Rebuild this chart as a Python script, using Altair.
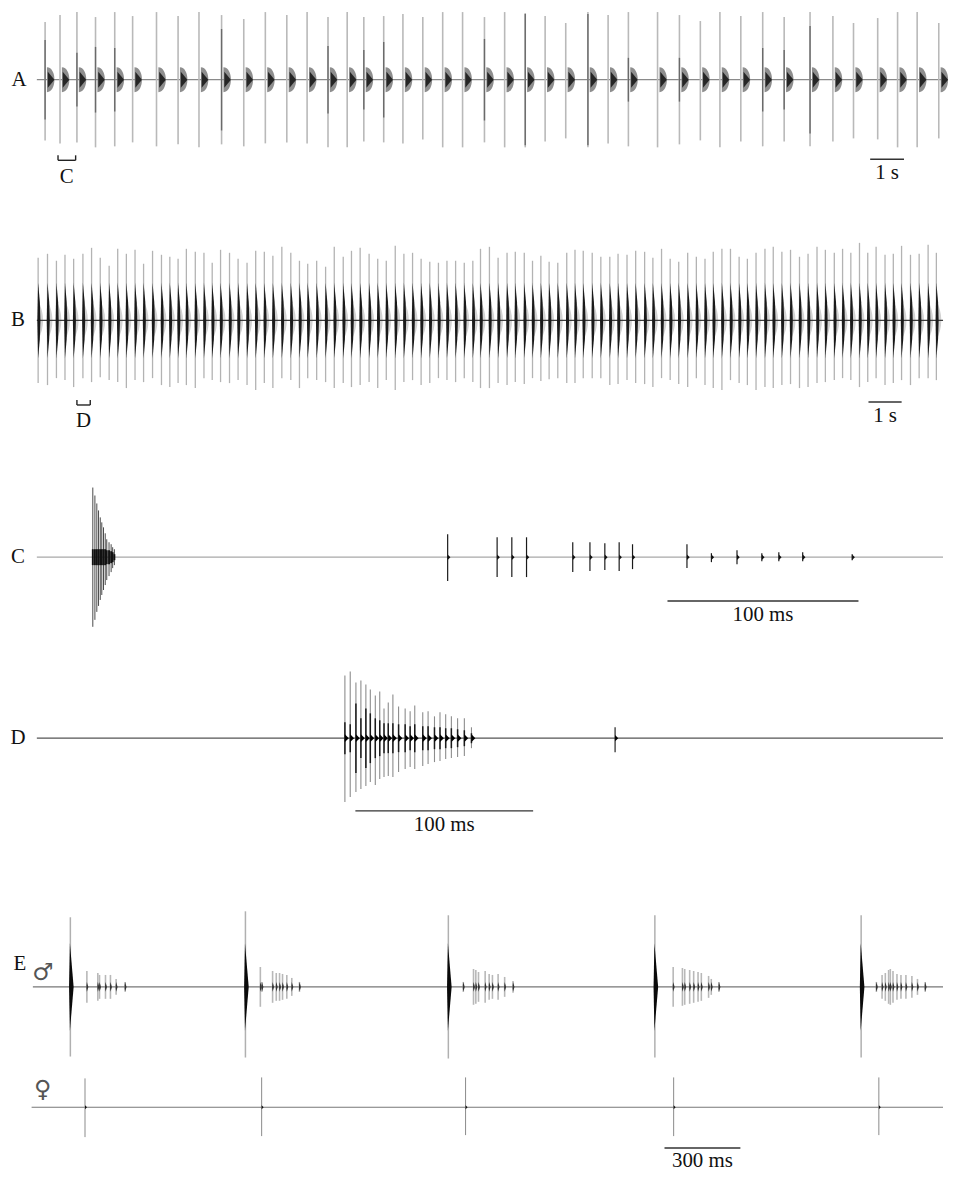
import altair as alt
import pandas as pd

# ======================= DATA =======================
# A : calling song, pulse times (s) and amplitudes (relative units)
A_T = [0.244, 0.685, 1.185, 1.735, 2.303, 2.832, 3.538, 4.176, 4.794, 5.462,
       6.118, 6.756, 7.391, 7.991, 8.609, 9.176, 9.668, 10.256, 10.824, 11.412,
       12.0, 12.588, 13.235, 13.832, 14.441, 15.029, 15.638, 16.294, 16.891, 17.491,
       18.353, 19.0, 19.618, 20.197, 20.815, 21.462, 22.097, 22.862, 23.538, 24.147,
       24.862, 25.450, 26.029, 26.668]
A_UP = [58, 65, 68, 63, 68, 64, 68, 64, 68, 65, 61, 68, 65, 68, 63, 68, 63, 64, 66, 63, 68, 68,
        63, 68, 67, 64, 57, 68, 65, 68, 68, 65, 59, 68, 64, 68, 63, 68, 64, 57, 62, 68, 68, 57]
A_DOWN = [61, 64, 63, 68, 67, 63, 67, 65, 68, 65, 67, 64, 63, 64, 68, 68, 62, 63, 64, 60, 68, 68,
          63, 68, 68, 62, 59, 68, 64, 67, 68, 65, 61, 68, 62, 67, 62, 67, 62, 59, 60, 68, 68, 59]
A_DARK = [40, 0, 27, 33, 32, 0, 0, 0, 0, 51, 0, 0, 0, 0, 34, 0, 30, 38, 0, 0,
          0, 0, 41, 0, 66, 0, 0, 66, 0, 22, 0, 22, 0, 0, 0, 32, 30, 54, 0, 0,
          0, 0, 0, 0]

# B : pulse times (s) and amplitudes
B_T = [0.038, 0.315, 0.579, 0.832, 1.088, 1.362, 1.618, 1.874, 2.138, 2.391,
       2.647, 2.903, 3.156, 3.421, 3.685, 3.932, 4.176, 4.421, 4.685, 4.941,
       5.185, 5.432, 5.697, 5.950, 6.215, 6.471, 6.726, 6.979, 7.244, 7.509,
       7.765, 8.009, 8.274, 8.538, 8.794, 9.059, 9.303, 9.559, 9.824, 10.079,
       10.332, 10.597, 10.853, 11.109, 11.362, 11.618, 11.874, 12.126, 12.382, 12.638,
       12.891,
       13.118, 13.382, 13.638, 13.903, 14.147, 14.412, 14.656, 14.903, 15.147, 15.403,
       15.668, 15.912, 16.156, 16.421, 16.676, 16.941, 17.185, 17.450, 17.706, 17.971,
       18.215, 18.471, 18.726, 18.979, 19.244, 19.5, 19.756, 20.0, 20.256, 20.509,
       20.765, 21.009, 21.265, 21.529, 21.774, 22.029, 22.285, 22.550, 22.803, 23.068,
       23.315, 23.579, 23.824, 24.068, 24.324, 24.568, 24.815, 25.079, 25.324, 25.568,
       25.832, 26.088, 26.353, 26.597]
B_UP = [63, 67, 60, 66, 62, 67, 73, 63, 55, 72, 67, 71, 57, 70, 66, 64, 62, 72, 69, 68,
        58, 71, 68, 62, 58, 70, 69, 65, 74, 68, 60, 57, 60, 54, 74, 64, 70, 73, 67, 62,
        60, 75, 67, 68, 62, 59, 58, 60, 60, 58, 60,
        72, 74, 63, 68, 69, 68, 60, 65, 59, 58, 68, 71, 70, 68, 64, 64, 67, 66, 70, 69,
        63, 72, 62, 59, 68, 64, 62, 69, 72, 72, 64, 62, 68, 72, 74, 69, 71, 64, 67, 74,
        71, 68, 72, 68, 78, 68, 74, 66, 67, 75, 66, 67, 76, 68]
B_DOWN = [63, 65, 58, 60, 67, 58, 62, 57, 60, 62, 68, 60, 62, 58, 65, 67, 63, 65, 68, 58,
          60, 62, 63, 60, 65, 70, 63, 68, 58, 60, 68, 58, 60, 62, 68, 63, 67, 65, 62, 68,
          60, 70, 62, 60, 65, 63, 58, 60, 62, 58, 62,
          68, 68, 63, 65, 62, 64, 58, 61, 59, 58, 63, 63, 58, 58, 58, 65, 64, 60, 63, 64,
          67, 58, 60, 64, 67, 58, 65, 68, 70, 60, 63, 65, 70, 67, 68, 65, 64, 68, 67, 63,
          62, 60, 58, 60, 67, 62, 58, 65, 63, 60, 65, 58, 58, 60]

# C : expanded detail of A (ms)
C_BURST_T = [29.3, 30.4, 31.4, 32.3, 33.2, 34.0, 34.9, 35.8, 36.6, 37.8, 38.9, 39.7, 40.6]
C_BURST_UP = [70, 62, 54, 47, 40, 35, 30, 24, 18, 15, 13, 10, 8]
C_BURST_DOWN = [70, 63, 55, 49, 43, 38, 33, 28, 23, 19, 15, 11, 8]
C_BURST_CORE = [8, 8, 8, 8, 8, 8, 8, 8, 7, 7, 6, 5, 3]
C_PULSE_T = [215.1, 241.0, 248.7, 256.4, 280.6, 289.6, 297.4, 304.9, 311.9,
             340.4, 353.2, 366.6, 379.6, 388.5, 401.0, 426.9]
C_PULSE_UP = [23, 20, 20, 20, 15, 15, 14, 15, 13, 13, 4, 7, 4, 5, 5, 3]
C_PULSE_DOWN = [24, 20, 20, 20, 15, 14, 13, 14, 12, 11, 5, 7, 4, 4, 4, 3]

# D : expanded detail of B (ms)
D_BURST_T = [173.3, 176.3, 179.5, 182.3, 185.1, 187.6, 190.4, 192.9, 195.3, 197.7,
             200.3, 203.5, 207.2, 210.0, 212.6, 217.1, 220.1, 223.7, 226.8, 230.0,
             233.2, 236.7, 240.5, 244.5]
D_BURST_UP = [63, 67, 56, 58, 54, 49, 43, 47, 30, 36, 44, 32, 30, 27, 33, 26, 27, 22, 26, 24,
              22, 20, 20, 11]
D_BURST_DOWN = [64, 59, 54, 51, 48, 44, 47, 41, 39, 38, 39, 34, 31, 29, 31, 28, 26, 24, 23, 21,
                20, 19, 18, 10]
D_BURST_CORE = [16, 14, 35, 20, 30, 25, 20, 18, 15, 15, 15, 14, 14, 12, 14, 12, 12, 11, 11, 10,
                10, 9, 8, 5]
D_PULSE_T = [325.3]
D_PULSE_UP = [11]
D_PULSE_DOWN = [14]

# E : duet, male (upper) and female (lower) (ms)
EM_BIG_T = [148.2, 840.3, 1642.5, 2458.9, 3274.4]
EM_BIG_UP = [70, 76, 72, 72, 72]
EM_BIG_DOWN = [70, 71, 72, 71, 71]
EM_SMALL_T = [213.5, 256.8, 263.5, 287.1, 306.7, 329.1, 364.5,
              899.3, 905.6, 947.7, 962.2, 975.2, 987.0, 1003.9, 1023.6, 1053.9,
              1701.5, 1742.0, 1751.1, 1761.7, 1788.0, 1803.8, 1816.8, 1839.2, 1865.1, 1898.2,
              2531.3, 2567.8, 2576.9, 2596.5, 2612.3, 2629.6, 2642.6, 2671.3, 2681.9, 2712.2,
              3334.6, 3357.1, 3370.0, 3383.0, 3389.7, 3400.3, 3416.0, 3431.8, 3451.4, 3475.0,
              3497.1, 3527.3]
EM_SMALL_AMP = [16, 14, 12, 12, 12, 8, 5,
                20, 5, 16, 14, 14, 13, 12, 9, 5,
                5, 18, 17, 15, 16, 13, 12, 13, 10, 6,
                20, 19, 18, 17, 16, 15, 14, 11, 8, 5,
                5, 12, 14, 17, 18, 16, 13, 12, 12, 11, 8, 5]
EF_T = [206.1, 904.4, 1710.6, 2533.2, 3344.4]
EF_UP = [29, 30, 30, 30, 30]
EF_DOWN = [30, 29, 28, 29, 28]

# annotations (time units of each panel)
A_BRACKET = [0.626, 1.147]     # segment shown in C
B_BRACKET = [1.185, 1.579]     # segment shown in D
A_BAR = [24.64, 25.64]          # 1 s
B_BAR = [24.59, 25.57]          # 1 s
C_BAR = [330.2, 430.2]          # 100 ms
D_BAR = [179.2, 279.2]          # 100 ms
E_BAR = [2497.0, 2797.0]        # 300 ms

# ======================= LAYOUT / STYLE =======================
W = 940
SERIF = "Liberation Serif"
SYMF = "DejaVu Sans"
FS = 21

DOME = "M0.15,-1 C0.95,-1 0.95,1 0.15,1 Z"
ARROW = "M0.22,-0.65 L0.75,0 L0.22,0.65 Z"
SPINDLE = "M0,-1 Q0.12,0 0,1 Q-0.04,0 0,-1 Z"
FUZZ = "M0,-1 Q0.5,0 0,1 Z"
SPIKE = "M-0.01,-1 L0.075,0 L-0.01,1 L-0.03,0 Z"
TRI = "M0,-1 L1,0 L0,1 Z"
DIAM = "M0,-1 L0.3,0 L0,1 L-0.12,0 Z"


def xsc(origin, ppu):
    return alt.Scale(domain=[(8 - origin) / ppu, (948 - origin) / ppu], nice=False, zero=False)


def ysc(h, base):
    return alt.Scale(domain=[-(h - base), base], nice=False, zero=False)


def pulse_df(t, up, down):
    return pd.DataFrame({"t": t, "hi": up, "lo": [-d for d in down], "z": [0] * len(t)})


def rules(df, xs, ys, color, sw):
    return alt.Chart(df).mark_rule(color=color, strokeWidth=sw).encode(
        x=alt.X("t:Q", scale=xs, axis=None),
        y=alt.Y("lo:Q", scale=ys, axis=None),
        y2=alt.Y2("hi:Q"))


def symbols(df, xs, ys, path, size, color):
    return alt.Chart(df).mark_point(shape=path, size=size, filled=True, color=color,
                                    opacity=1, strokeWidth=0).encode(
        x=alt.X("t:Q", scale=xs, axis=None),
        y=alt.Y("z:Q", scale=ys, axis=None))


def baseline(t0, t1, xs, ys, color, sw=1.2):
    df = pd.DataFrame({"t": [t0], "t2": [t1], "z": [0]})
    return alt.Chart(df).mark_rule(color=color, strokeWidth=sw).encode(
        x=alt.X("t:Q", scale=xs, axis=None), x2="t2:Q",
        y=alt.Y("z:Q", scale=ys, axis=None))


def scalebar(seg, label, xs, ybar, ytext):
    df = pd.DataFrame({"t": [seg[0]], "t2": [seg[1]], "tm": [(seg[0] + seg[1]) / 2], "s": [label]})
    bar = alt.Chart(df).mark_rule(color="#333", strokeWidth=1.4).encode(
        x=alt.X("t:Q", scale=xs, axis=None), x2="t2:Q", y=alt.value(ybar))
    txt = alt.Chart(df).mark_text(font=SERIF, fontSize=FS, color="#111", baseline="middle").encode(
        x=alt.X("tm:Q", scale=xs, axis=None), y=alt.value(ytext), text="s:N")
    return [bar, txt]


def bracket(seg, label, xs, ytop, ybot, ytext):
    ends = pd.DataFrame({"t": seg})
    df = pd.DataFrame({"t": [seg[0]], "t2": [seg[1]], "tm": [(seg[0] + seg[1]) / 2], "s": [label]})
    ticks = alt.Chart(ends).mark_rule(color="#222", strokeWidth=1.4).encode(
        x=alt.X("t:Q", scale=xs, axis=None), y=alt.value(ytop), y2=alt.value(ybot))
    hor = alt.Chart(df).mark_rule(color="#222", strokeWidth=1.4).encode(
        x=alt.X("t:Q", scale=xs, axis=None), x2="t2:Q", y=alt.value(ybot))
    txt = alt.Chart(df).mark_text(font=SERIF, fontSize=FS, color="#111", baseline="middle").encode(
        x=alt.X("tm:Q", scale=xs, axis=None), y=alt.value(ytext), text="s:N")
    return [ticks, hor, txt]


def label(s, x, y, font=SERIF, size=FS, color="#111"):
    return alt.Chart(pd.DataFrame({"s": [s]})).mark_text(
        font=font, fontSize=size, color=color, baseline="middle", align="center").encode(
        x=alt.value(x), y=alt.value(y), text="s:N")


# ----------------------------- panel A -----------------------------
HA, BA = 192, 68
xa, ya = xsc(37, 34.0), ysc(HA, BA)
a_df = pulse_df(A_T, A_UP, A_DOWN)
a_dark = pd.DataFrame({"t": [t for t, d in zip(A_T, A_DARK) if d > 0],
                       "hi": [d for d in A_DARK if d > 0],
                       "lo": [-d for d in A_DARK if d > 0]})
panelA = alt.layer(
    baseline(0, (948 - 37) / 34.0, xa, ya, "#8a8a8a"),
    rules(a_df, xa, ya, "#b9b9b9", 1.6),
    rules(a_dark, xa, ya, "#6a6a6a", 1.4),
    symbols(a_df, xa, ya, DOME, 625, "#8e8e8e"),
    symbols(a_df, xa, ya, ARROW, 625, "#262626"),
    *bracket(A_BRACKET, "C", xa, 144, 149, 166),
    *scalebar(A_BAR, "1 s", xa, 148, 162),
    label("A", 11, BA),
).properties(width=W, height=HA)

# ----------------------------- panel B -----------------------------
HB, BB = 240, 118
xb, yb = xsc(37, 34.0), ysc(HB, BB)
b_df = pulse_df(B_T, B_UP, B_DOWN)
panelB = alt.layer(
    rules(b_df, xb, yb, "#b3b3b3", 1.3),
    symbols(b_df, xb, yb, FUZZ, 1600, "#d2d2d2"),
    baseline(0, (948 - 37) / 34.0, xb, yb, "#3a3a3a"),
    symbols(b_df, xb, yb, SPINDLE, 5776, "#1a1a1a"),
    *bracket(B_BRACKET, "D", xb, 198, 203, 219),
    *scalebar(B_BAR, "1 s", xb, 200, 214),
    label("B", 10, BB),
).properties(width=W, height=HB)

# ----------------------------- panel C -----------------------------
HC, BC = 210, 116
xc, yc = xsc(37, 1.92), ysc(HC, BC)
c_burst = pulse_df(C_BURST_T, C_BURST_UP, C_BURST_DOWN)
c_core = pulse_df(C_BURST_T, C_BURST_CORE, C_BURST_CORE)
c_pulse = pulse_df(C_PULSE_T, C_PULSE_UP, C_PULSE_DOWN)
panelC = alt.layer(
    baseline(0, (948 - 37) / 1.92, xc, yc, "#a8a8a8"),
    rules(c_burst, xc, yc, "#4a4a4a", 1.0),
    rules(c_core, xc, yc, "#111111", 1.9),
    rules(c_pulse, xc, yc, "#1a1a1a", 1.2),
    symbols(c_pulse, xc, yc, TRI, 30, "#111111"),
    *scalebar(C_BAR, "100 ms", xc, 160, 174),
    label("C", 10, BC),
).properties(width=W, height=HC)

# ----------------------------- panel D -----------------------------
HD, BD = 210, 88
xd, yd = xsc(37, 1.787), ysc(HD, BD)
d_burst = pulse_df(D_BURST_T, D_BURST_UP, D_BURST_DOWN)
d_core = pulse_df(D_BURST_T, D_BURST_CORE, D_BURST_CORE)
d_pulse = pulse_df(D_PULSE_T, D_PULSE_UP, D_PULSE_DOWN)
panelD = alt.layer(
    baseline(0, (948 - 37) / 1.787, xd, yd, "#555555"),
    rules(d_burst, xd, yd, "#8c8c8c", 1.1),
    rules(d_core, xd, yd, "#1a1a1a", 1.5),
    symbols(d_burst, xd, yd, TRI, 60, "#000000"),
    rules(d_pulse, xd, yd, "#222222", 1.2),
    symbols(d_pulse, xd, yd, TRI, 40, "#000000"),
    *scalebar(D_BAR, "100 ms", xd, 161, 175),
    label("D", 10, BD),
).properties(width=W, height=HD)

# ----------------------------- panel E male -----------------------------
HE, BE = 208, 128
xe, ye = xsc(33, 0.2543), ysc(HE, BE)
em_big = pulse_df(EM_BIG_T, EM_BIG_UP, EM_BIG_DOWN)
em_small = pulse_df(EM_SMALL_T, EM_SMALL_AMP, EM_SMALL_AMP)
panelEM = alt.layer(
    baseline(0, (948 - 33) / 0.2543, xe, ye, "#777777"),
    rules(em_big, xe, ye, "#b0b0b0", 1.5),
    rules(em_small, xe, ye, "#b8b8b8", 1.6),
    symbols(em_small, xe, ye, DIAM, 100, "#333333"),
    symbols(em_big, xe, ye, SPIKE, 7744, "#0a0a0a"),
    label("E", 12, 105),
    label("\u2642", 35, 114, font=SYMF, size=24, color="#555555"),
).properties(width=W, height=HE)

# ----------------------------- panel E female -----------------------------
HF, BF = 104, 41
xf, yf = xsc(33, 0.2543), ysc(HF, BF)
ef = pulse_df(EF_T, EF_UP, EF_DOWN)
panelEF = alt.layer(
    baseline(-5, (948 - 33) / 0.2543, xf, yf, "#777777"),
    rules(ef, xf, yf, "#8a8a8a", 1.0),
    symbols(ef, xf, yf, TRI, 16, "#111111"),
    *scalebar(E_BAR, "300 ms", xf, 82, 95),
    label("\u2640", 35, 24, font=SYMF, size=24, color="#555555"),
).properties(width=W, height=HF)

chart = alt.vconcat(panelA, panelB, panelC, panelD, panelEM, panelEF,
                    spacing=0, bounds="flush").resolve_scale(
    x="independent", y="independent").properties(padding=0).configure_view(stroke=None)

chart.save("out.html", embed_options={"renderer": "svg", "actions": False})
